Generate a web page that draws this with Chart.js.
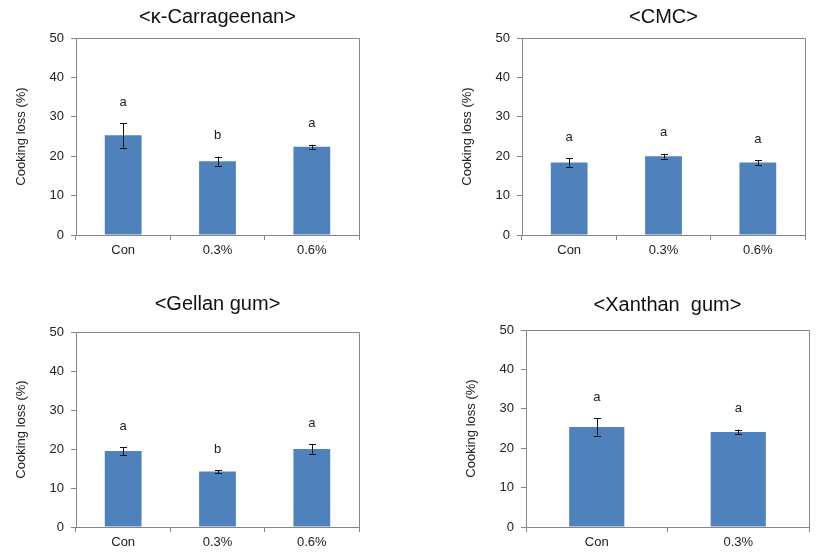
<!DOCTYPE html>
<html>
<head>
<meta charset="utf-8">
<script src="https://cdn.jsdelivr.net/npm/chart.js@4/dist/chart.umd.min.js"></script>
<style>
  body { margin: 0; background: #fff; }
  #wrap { position: relative; width: 824px; height: 556px; }
  .panel { position: absolute; }
</style>
</head>
<body>
<div id="wrap">
  <div class="panel" style="left:0;top:0"><canvas id="c1" width="412" height="278"></canvas></div>
  <div class="panel" style="left:412px;top:0"><canvas id="c2" width="412" height="278"></canvas></div>
  <div class="panel" style="left:0;top:278px"><canvas id="c3" width="412" height="278"></canvas></div>
  <div class="panel" style="left:412px;top:278px"><canvas id="c4" width="412" height="278"></canvas></div>
</div>
<script>
// values (cooking loss, %)
const cats3 = ["Con", "0.3%", "0.6%"];
const cats2 = ["Con", "0.3%"];

const carrMean = [25.3, 18.7, 22.4];
const carrErr = [3.1, 1.2, 0.5];
const carrLetters = ["a", "b", "a"];

const cmcMean = [18.4, 20.0, 18.4];
const cmcErr = [1.1, 0.6, 0.6];
const cmcLetters = ["a", "a", "a"];

const gellanMean = [19.5, 14.2, 20.0];
const gellanErr = [1.0, 0.4, 1.2];
const gellanLetters = ["a", "b", "a"];

const xanthanMean = [25.4, 24.1];
const xanthanErr = [2.2, 0.6];
const xanthanLetters = ["a", "a"];

const yTicks = { min: 0, max: 50, step: 10 };

const BAR = "#4f81bd";
const AXIS = "#868686";
const TEXT = "#222";
const FONT = "'Liberation Sans', Arial, sans-serif";

// draws top/right frame of plot area, error bars and significance letters
const extras = {
  id: "extras",
  afterDatasetsDraw(chart) {
    const { ctx, chartArea: a, scales } = chart;
    const ds = chart.data.datasets[0];
    const meta = chart.getDatasetMeta(0);
    ctx.save();
    // frame
    ctx.strokeStyle = AXIS;
    ctx.lineWidth = 1;
    ctx.beginPath();
    const l = Math.round(a.left) + 0.5, r = Math.round(a.right) + 0.5;
    const t = Math.round(a.top) + 0.5, b = Math.round(a.bottom) + 0.5;
    ctx.moveTo(l, t); ctx.lineTo(r, t); ctx.lineTo(r, b);
    ctx.stroke();
    // error bars
    ctx.strokeStyle = "#111";
    meta.data.forEach((bar, i) => {
      const x = Math.round(bar.x) + 0.5;
      const hi = scales.y.getPixelForValue(ds.data[i] + ds.errors[i]);
      const lo = scales.y.getPixelForValue(ds.data[i] - ds.errors[i]);
      ctx.beginPath();
      ctx.moveTo(x, hi); ctx.lineTo(x, lo);
      ctx.moveTo(x - 3.5, Math.round(hi) + 0.5); ctx.lineTo(x + 3.5, Math.round(hi) + 0.5);
      ctx.moveTo(x - 3.5, Math.round(lo) + 0.5); ctx.lineTo(x + 3.5, Math.round(lo) + 0.5);
      ctx.stroke();
      // letter above the error bar
      ctx.fillStyle = TEXT;
      ctx.font = "13px " + FONT;
      ctx.textAlign = "center";
      ctx.textBaseline = "middle";
      ctx.fillText(ds.letters[i], bar.x, hi - 21);
    });
    ctx.restore();
  }
};

function makeChart(id, title, labels, mean, err, letters, box) {
  const canvas = document.getElementById(id);
  return new Chart(canvas.getContext("2d"), {
    type: "bar",
    data: {
      labels: labels,
      datasets: [{
        data: mean,
        errors: err,
        letters: letters,
        backgroundColor: BAR,
        borderWidth: 0,
        categoryPercentage: 1,
        barPercentage: 0.39
      }]
    },
    options: {
      responsive: false,
      animation: false,
      events: [],
      layout: { padding: { left: 0, right: box.padRight, top: 0, bottom: 0 } },
      plugins: {
        legend: { display: false },
        tooltip: { enabled: false },
        title: {
          display: true,
          text: title,
          fullSize: false,
          color: "#111",
          font: { family: FONT, size: 20, weight: "normal" },
          padding: { top: box.titleTop, bottom: box.titleBottom }
        }
      },
      scales: {
        x: {
          offset: true,
          grid: { offset: true, drawOnChartArea: false, tickLength: 5, color: AXIS },
          border: { color: AXIS },
          ticks: { color: TEXT, font: { family: FONT, size: 13 }, padding: 3 },
          afterFit: (s) => { s.height = box.xHeight; }
        },
        y: {
          min: yTicks.min,
          max: yTicks.max,
          grid: { drawOnChartArea: false, tickLength: 5, color: AXIS },
          border: { color: AXIS },
          ticks: { stepSize: yTicks.step, color: TEXT, font: { family: FONT, size: 13 }, padding: 7 },
          title: {
            display: true,
            text: "Cooking loss (%)",
            color: TEXT,
            font: { family: FONT, size: 13 },
            padding: { top: box.yTitlePad, bottom: 0 }
          },
          afterFit: (s) => { s.width = box.yWidth; }
        }
      }
    },
    plugins: [extras]
  });
}

makeChart("c1", "<\u03ba-Carrageenan>", cats3, carrMean, carrErr, carrLetters,
  { padRight: 53, yWidth: 76, xHeight: 43, titleTop: 5, titleBottom: 9, yTitlePad: 14 });
makeChart("c2", "<CMC>", cats3, cmcMean, cmcErr, cmcLetters,
  { padRight: 19, yWidth: 110, xHeight: 43, titleTop: 5, titleBottom: 9, yTitlePad: 48 });
makeChart("c3", "<Gellan gum>", cats3, gellanMean, gellanErr, gellanLetters,
  { padRight: 53, yWidth: 76, xHeight: 29, titleTop: 14, titleBottom: 16, yTitlePad: 14 });
makeChart("c4", "<Xanthan  gum>", cats2, xanthanMean, xanthanErr, xanthanLetters,
  { padRight: 15, yWidth: 114, xHeight: 29, titleTop: 15, titleBottom: 13, yTitlePad: 52 });
</script>
</body>
</html>
